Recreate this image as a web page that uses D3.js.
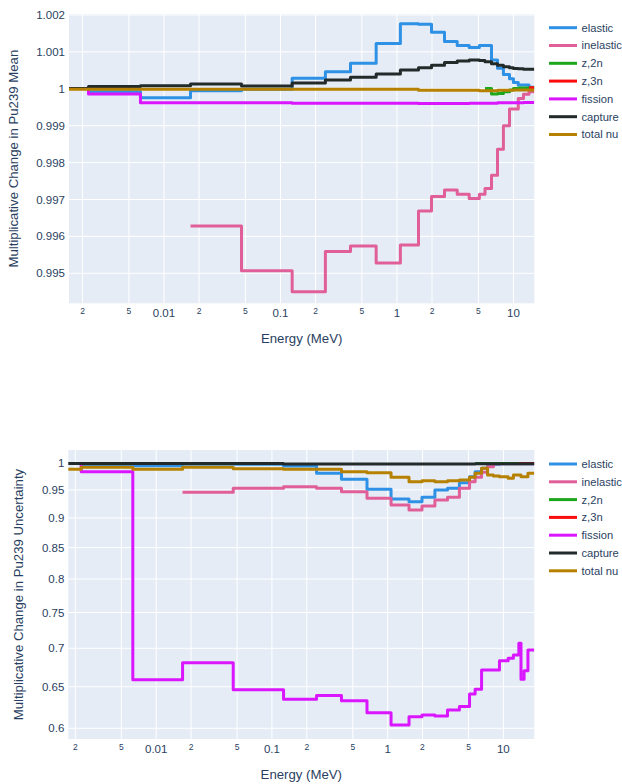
<!DOCTYPE html>
<html lang="en">
<head>
  <meta charset="UTF-8">
  <title>Pu239 multiplicative change</title>
  <script src="https://d3js.org/d3.v7.min.js"></script>
  <style>
    body {
      margin: 0;
      background: #fff;
      font-family: "Liberation Sans", Arial, sans-serif;
    }
    svg text { fill: #2a3f5f; }
  </style>
</head>
<body>
<svg id="chart" width="622" height="784"></svg>
<script>
  const N = null;

  // group edges (MeV), values are given at these points (shape "vh")
  const energyMeV = [0.00153, 0.00225, 0.00628, 0.0169, 0.0463, 0.126, 0.243, 0.399, 0.663, 1.07,
    1.53, 1.98, 2.56, 3.29, 4.17, 5.1, 5.7, 6.48, 7.3, 8.2, 9.25, 10.0, 11.0, 12.2, 13.6, 14.2,
    15.1, 16.3, 18.5];

  const seriesNames = ["elastic", "inelastic", "z,2n", "z,3n", "fission", "capture", "total nu"];
  const seriesColors = ["#2E91E5", "#E15F99", "#1CA71C", "#FB0D0D", "#DA16FF", "#222A2A", "#B68100"];

  // mean (top panel)
  const meanElastic = [N, 1.0, 0.99992, 0.99976, 0.99995, 0.99999, 1.000285, 1.00046, 1.00069, 1.00123,
    1.00176, 1.00175, 1.00153, 1.00128, 1.00117, 1.00112, 1.00117, 1.00117, 1.00078, 1.00056, 1.00039,
    1.00027, 1.00017, 1.0001, 1.0001, 1.00004, 1.00004];
  const meanInelastic = [N, N, N, 0.99628, 0.99628, 0.99507, 0.9945, 0.99559, 0.99574, 0.99528,
    0.99577, 0.99669, 0.99708, 0.99726, 0.99714, 0.99703, 0.99714, 0.9973, 0.99766, 0.99836, 0.999,
    0.99945, 0.99945, 0.99974, 0.99985, 0.99992, 0.99992];
  const meanZ2n = [N, N, N, N, N, N, N, N, N, N, N, N, N, N, N, N, 1.00001, 1.00001, 0.99986, 0.99987,
    0.99992, 0.99997, 1.00001, 1.00002, 1.00002, 1.00002, 1.00002];
  const meanZ3n = [N, N, N, N, N, N, N, N, N, N, N, N, N, N, N, N, N, N, N, N, N, N, N, N,
    1.00003, 1.00003, 1.00003];
  const meanFission = [N, 0.99997, 0.99986, 0.99962, 0.99962, 0.99962, 0.99961, 0.99961, 0.99961, 0.99961,
    0.99961, 0.9996, 0.9996, 0.9996, 0.9996, 0.99961, 0.99961, 0.99961, 0.99961, 0.99962, 0.99962,
    0.99962, 0.99962, 0.99962, 0.99963, 0.99963, 0.99963];
  const meanCapture = [1.00001, 1.00001, 1.00006, 1.00008, 1.00013, 1.000076, 1.00016, 1.00024, 1.00031,
    1.0004, 1.00051, 1.00057, 1.00064, 1.00071, 1.00075, 1.00078, 1.00077, 1.00073, 1.00068, 1.00064,
    1.0006, 1.00057, 1.00055, 1.00054, 1.00053, 1.00053, 1.00053];
  const meanTotalNu = [0.99999, 0.99999, 0.99999, 0.99999, 0.99999, 0.99999, 0.99999, 0.99999, 0.99999,
    0.99999, 0.99999, 0.99996, 0.99996, 0.99996, 0.99996, 0.99996, 0.99995, 0.99995, 0.99995, 0.99996,
    0.99996, 0.99996, 0.99997, 0.99997, 0.99997, 0.99997, 0.99997];

  // uncertainty (bottom panel)
  const uncElastic = [N, 0.997, 0.996, 0.9954, 0.998, 0.998, 0.9948, 0.9809, 0.9696, 0.9512, 0.9335,
    0.9287, 0.9366, 0.9498, 0.953, 0.9633, 0.9745, 0.9839, 0.9904, 0.9954, 0.998, 0.999, 0.999, 0.999,
    0.999, 0.999, 0.999, 0.999, 0.999];
  const uncInelastic = [N, N, N, 0.9457, 0.9457, 0.953, 0.9559, 0.953, 0.9468, 0.9347, 0.9228, 0.914,
    0.921, 0.9318, 0.9366, 0.953, 0.9652, 0.9734, 0.9828, 0.9935, 0.999, 0.999, 0.999, 0.999, 0.999,
    0.999, 0.999, 0.999, 0.999];
  const uncZ2n = [N, N, N, N, N, N, N, N, N, N, N, N, N, N, N, N, 0.9995, 0.9995, 0.9995, 0.9995,
    0.9995, 0.9995, 0.9995, 0.9995, 0.9995, 0.9995, 0.9995, 0.9995, 0.9995];
  const uncZ3n = [N, N, N, N, N, N, N, N, N, N, N, N, N, N, N, N, N, N, N, N, N, N, N, N,
    0.9995, 0.9995, 0.9995, 0.9995, 0.9995];
  const uncFission = [N, 0.9967, 0.9839, 0.6587, 0.6809, 0.6461, 0.6346, 0.639, 0.6328, 0.6182, 0.6039,
    0.6136, 0.6156, 0.6144, 0.6216, 0.6256, 0.641, 0.6469, 0.6714, 0.6714, 0.6714, 0.6835, 0.6835,
    0.6867, 0.6911, 0.7068, 0.6596, 0.6705, 0.6978];
  const uncCapture = [0.9998, 0.9998, 0.9998, 0.9998, 0.9998, 0.9998, 0.9988, 0.9988, 0.9988, 0.9988,
    0.9988, 0.9988, 0.9988, 0.9988, 0.9988, 0.9988, 0.9988, 0.9993, 0.9993, 0.9993, 0.9993, 0.9993,
    0.9993, 0.9993, 0.9993, 0.9993, 0.9993, 0.9993, 0.9993];
  const uncTotalNu = [0.9885, 0.9885, 0.9923, 0.9885, 0.9923, 0.9895, 0.9885, 0.9885, 0.9839, 0.9821,
    0.9734, 0.9652, 0.967, 0.9652, 0.967, 0.9683, 0.9734, 0.9809, 0.9904, 0.9777, 0.9758, 0.9745,
    0.9745, 0.9715, 0.9777, 0.9777, 0.9745, 0.9745, 0.9809];

  // ticks
  const xMajorTicks = [0.01, 0.1, 1, 10];
  const xMajorLabels = ["0.01", "0.1", "1", "10"];
  const xMinorTicks = [0.002, 0.005, 0.02, 0.05, 0.2, 0.5, 2, 5];
  const xMinorLabels = ["2", "5", "2", "5", "2", "5", "2", "5"];
  const meanTicks = [0.995, 0.996, 0.997, 0.998, 0.999, 1, 1.001, 1.002];
  const meanTickLabels = ["0.995", "0.996", "0.997", "0.998", "0.999", "1", "1.001", "1.002"];
  const uncTicks = [0.6, 0.65, 0.7, 0.75, 0.8, 0.85, 0.9, 0.95, 1];
  const uncTickLabels = ["0.6", "0.65", "0.7", "0.75", "0.8", "0.85", "0.9", "0.95", "1"];

  const svg = d3.select("#chart");

  function drawPanel(p) {
    const g = svg.append("g");
    const x = d3.scaleLog().domain(p.xDomain).range([p.left, p.right]);
    const y = p.y;

    g.append("rect")
      .attr("x", p.left).attr("y", p.top)
      .attr("width", p.right - p.left).attr("height", p.bottom - p.top)
      .attr("fill", "#E5ECF6");

    // grid
    const xGrid = xMajorTicks.concat(xMinorTicks).filter(v => v >= p.xDomain[0] && v <= p.xDomain[1]);
    g.selectAll(".xg").data(xGrid).enter().append("line")
      .attr("x1", d => x(d)).attr("x2", d => x(d))
      .attr("y1", p.top).attr("y2", p.bottom)
      .attr("stroke", "#fff").attr("stroke-width", 1);
    g.selectAll(".yg").data(p.yTicks).enter().append("line")
      .attr("x1", p.left).attr("x2", p.right)
      .attr("y1", d => y(d)).attr("y2", d => y(d))
      .attr("stroke", "#fff").attr("stroke-width", 1);

    // tick labels
    g.selectAll(".xl").data(xMajorTicks).enter().append("text")
      .attr("x", d => x(d)).attr("y", p.bottom + 14)
      .attr("text-anchor", "middle").attr("font-size", 11.5)
      .text((d, i) => xMajorLabels[i]);
    g.selectAll(".xm").data(xMinorTicks.filter(v => v >= p.xDomain[0])).enter().append("text")
      .attr("x", d => x(d)).attr("y", p.bottom + 11)
      .attr("text-anchor", "middle").attr("font-size", 8.5)
      .text(d => xMinorLabels[xMinorTicks.indexOf(d)]);
    g.selectAll(".yl").data(p.yTicks).enter().append("text")
      .attr("x", p.left - 4).attr("y", d => y(d)).attr("dy", "0.35em")
      .attr("text-anchor", "end").attr("font-size", 11.5)
      .text((d, i) => p.yTickLabels[i]);

    // axis titles
    g.append("text")
      .attr("x", (p.left + p.right) / 2).attr("y", p.bottom + 40)
      .attr("text-anchor", "middle").attr("font-size", 13.2)
      .text("Energy (MeV)");
    g.append("text")
      .attr("transform", `translate(${p.yTitleX},${(p.top + p.bottom) / 2}) rotate(-90)`)
      .attr("text-anchor", "middle").attr("dy", "0.35em").attr("font-size", 13.2)
      .text(p.yTitle);

    // traces, clipped to plot area
    const clipId = "clip" + p.id;
    svg.append("clipPath").attr("id", clipId).append("rect")
      .attr("x", p.left).attr("y", p.top)
      .attr("width", p.right - p.left).attr("height", p.bottom - p.top);
    const lines = g.append("g").attr("clip-path", `url(#${clipId})`);
    const line = d3.line()
      .defined(d => d.v != null)
      .x(d => x(d.e)).y(d => y(d.v))
      .curve(d3.curveStepBefore);

    p.series.forEach((vals, i) => {
      const pts = vals.map((v, k) => ({ e: energyMeV[k], v: v }));
      lines.append("path")
        .attr("d", line(pts))
        .attr("fill", "none")
        .attr("stroke", seriesColors[i])
        .attr("stroke-width", 3)
        .attr("stroke-linejoin", "round");
    });

    // legend
    const lg = g.append("g");
    seriesNames.forEach((name, i) => {
      const ly = p.legendTop + i * 17.8;
      lg.append("line")
        .attr("x1", 549).attr("x2", 577).attr("y1", ly).attr("y2", ly)
        .attr("stroke", seriesColors[i]).attr("stroke-width", 3);
      lg.append("text")
        .attr("x", 581.5).attr("y", ly).attr("dy", "0.35em")
        .attr("font-size", 11.2).text(name);
    });
  }

  drawPanel({
    id: "mean",
    left: 69, right: 534.3, top: 14, bottom: 303.3,
    xDomain: [0.00153, 15.1],
    y: d3.scaleLinear().domain([0.994187, 1.002027]).range([303.3, 14]),
    yTicks: meanTicks, yTickLabels: meanTickLabels,
    yTitle: "Multiplicative Change in Pu239 Mean", yTitleX: 13,
    series: [meanElastic, meanInelastic, meanZ2n, meanZ3n, meanFission, meanCapture, meanTotalNu],
    legendTop: 27.7
  });

  drawPanel({
    id: "unc",
    left: 68.3, right: 534.3, top: 450, bottom: 739,
    xDomain: [0.00174, 18.5],
    y: d3.scaleLog().domain([0.5877, 1.026]).range([739, 450]),
    yTicks: uncTicks, yTickLabels: uncTickLabels,
    yTitle: "Multiplicative Change in Pu239 Uncertainty", yTitleX: 18.5,
    series: [uncElastic, uncInelastic, uncZ2n, uncZ3n, uncFission, uncCapture, uncTotalNu],
    legendTop: 464
  });
</script>
</body>
</html>
